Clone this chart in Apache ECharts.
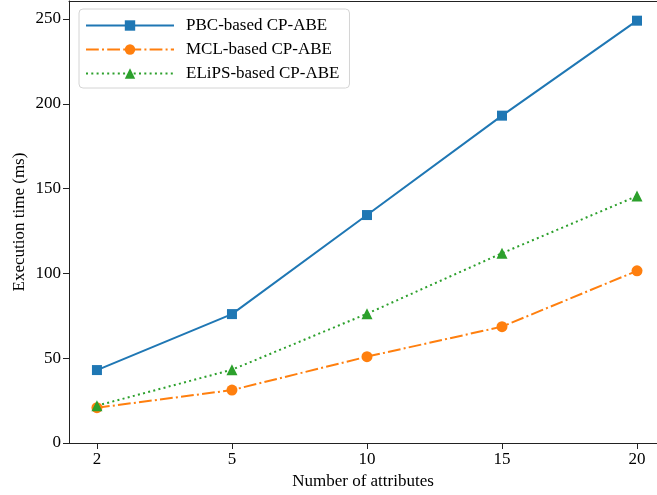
<!DOCTYPE html>
<html>
<head>
<meta charset="utf-8">
<script src="https://cdn.jsdelivr.net/npm/echarts@6/dist/echarts.min.js"></script>
<style>
html, body { margin: 0; padding: 0; background: #fff; }
#chart { width: 657px; height: 495px; }
</style>
</head>
<body>
<div id="chart"></div>
<script>
// number of attributes (evenly spaced positions on the x axis)
var xLabels = ['2', '5', '10', '15', '20'];
var xTicks = [0, 1, 2, 3, 4];
var yTicks = [0, 50, 100, 150, 200, 250];

var pbcValues = [43, 76, 134.4, 193, 249];
var mclValues = [20.8, 31.2, 50.9, 68.6, 101.5];
var elipsValues = [22, 43.2, 76.2, 111.9, 145.6];

var font = 'Liberation Serif';

function toPoints(arr) {
    return arr.map(function (v, i) { return [i, v]; });
}

var chart = echarts.init(document.getElementById('chart'));

var option = {
    animation: false,
    textStyle: { fontFamily: font },
    grid: {
        left: 69,
        top: 1,
        right: 0,
        bottom: 52,
        show: false,
        containLabel: false
    },
    legend: {
        orient: 'vertical',
        left: 79,
        top: 9,
        itemWidth: 88,
        itemHeight: 13,
        itemGap: 7,
        padding: [8, 10, 6, 6],
        borderColor: '#d4d4d4',
        borderWidth: 1,
        borderRadius: 4,
        backgroundColor: 'rgba(255,255,255,0.8)',
        textStyle: { fontFamily: font, fontSize: 17, lineHeight: 17, color: '#000', padding: [0, 0, 0, 7] },
        data: ['PBC-based CP-ABE', 'MCL-based CP-ABE', 'ELiPS-based CP-ABE']
    },
    xAxis: [
        {
            type: 'value',
            min: -0.207,
            max: 4.148,
            name: 'Number of attributes',
            nameLocation: 'middle',
            nameGap: 30,
            nameMoveOverlap: false,
            nameTextStyle: { fontFamily: font, fontSize: 17, color: '#000' },
            axisLine: { show: true, onZero: false, lineStyle: { color: '#222', width: 1 } },
            axisTick: { show: true, length: 6, lineStyle: { color: '#222' }, customValues: xTicks },
            axisLabel: {
                fontFamily: font, fontSize: 17, color: '#000', margin: 8,
                customValues: xTicks,
                formatter: function (v) { return xLabels[Math.round(v)]; }
            },
            splitLine: { show: false }
        },
        {
            // top spine only
            type: 'value',
            position: 'top',
            min: -0.207,
            max: 4.148,
            axisLine: { show: true, onZero: false, lineStyle: { color: '#222', width: 1 } },
            axisTick: { show: false },
            axisLabel: { show: false },
            splitLine: { show: false }
        }
    ],
    yAxis: {
        type: 'value',
        min: 0,
        max: 260.6,
        name: 'Execution time (ms)',
        nameLocation: 'middle',
        nameGap: 41,
        nameMoveOverlap: false,
        nameRotate: 90,
        nameTextStyle: { fontFamily: font, fontSize: 17, color: '#000' },
        axisLine: { show: true, onZero: false, lineStyle: { color: '#222', width: 1 } },
        axisTick: { show: true, length: 6, lineStyle: { color: '#222' }, customValues: yTicks },
        axisLabel: { fontFamily: font, fontSize: 17, color: '#000', margin: 8, customValues: yTicks },
        splitLine: { show: false }
    },
    series: [
        {
            name: 'PBC-based CP-ABE',
            type: 'line',
            data: toPoints(pbcValues),
            symbol: 'rect',
            symbolSize: 10,
            color: '#1f77b4',
            lineStyle: { color: '#1f77b4', width: 2 },
            itemStyle: { color: '#1f77b4' }
        },
        {
            name: 'MCL-based CP-ABE',
            type: 'line',
            data: toPoints(mclValues),
            symbol: 'circle',
            symbolSize: 11,
            color: '#ff7f0e',
            lineStyle: { color: '#ff7f0e', width: 2, type: [12.8, 3.2, 2, 3.2] },
            itemStyle: { color: '#ff7f0e' }
        },
        {
            name: 'ELiPS-based CP-ABE',
            type: 'line',
            data: toPoints(elipsValues),
            symbol: 'triangle',
            symbolSize: 11,
            color: '#2ca02c',
            lineStyle: { color: '#2ca02c', width: 2, type: [2, 3.3] },
            itemStyle: { color: '#2ca02c' }
        }
    ]
};

chart.setOption(option);
</script>
</body>
</html>
